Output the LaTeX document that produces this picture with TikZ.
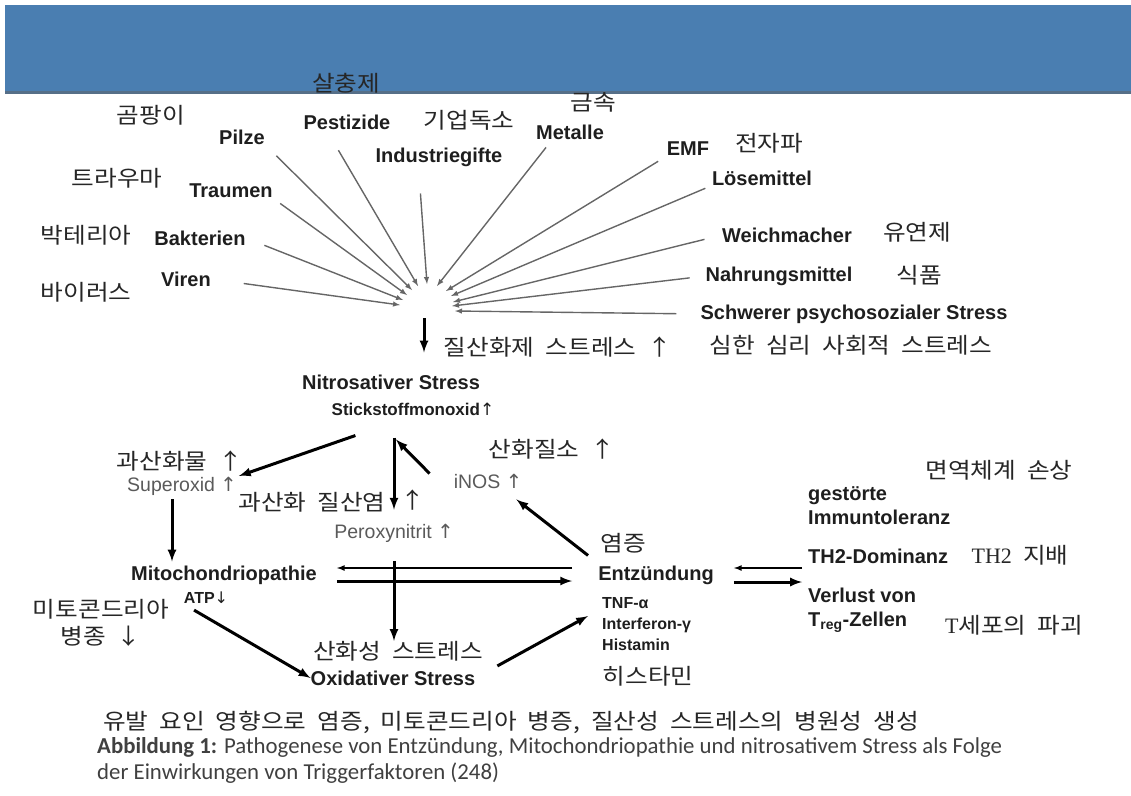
\documentclass[tikz,border=0pt]{standalone}
\usepackage{fontspec}
\setmainfont{Liberation Sans}
\newfontfamily\kor{Noto Sans CJK KR}[FakeStretch=1.12, WordSpace=2]
\newfontfamily\lserif{Liberation Serif}
\newfontfamily\symb{DejaVu Sans}
\newfontfamily\capt{Carlito}
\usepackage{tikz}
\usetikzlibrary{positioning, arrows}
\definecolor{bandblue}{RGB}{74,126,177}
\definecolor{ink}{RGB}{30,30,30}
\definecolor{soft}{RGB}{90,90,90}
\newcommand{\upa}{{\symb\mdseries ↑}}
\newcommand{\dna}{{\symb\mdseries ↓}}

\begin{document}
\begin{tikzpicture}[x=1pt, y=-1pt]
\tikzstyle{trigger}=[font=\fontsize{20}{23}\selectfont\bfseries, text=ink, inner sep=0pt]
\tikzstyle{state}=[font=\fontsize{20}{24}\selectfont\bfseries, text=ink, inner sep=0pt]
\tikzstyle{small}=[font=\fontsize{16}{21}\selectfont\bfseries, text=ink, inner sep=0pt]
\tikzstyle{sub}=[font=\fontsize{19.5}{22}\selectfont, text=soft, inner sep=0pt]
\tikzstyle{kor}=[font=\fontsize{22}{27}\selectfont\kor, text=black!85, inner sep=0pt]
\tikzstyle{ray}=[draw=black!60, line width=1.4pt, -latex]
\tikzstyle{link}=[draw, -latex, line width=3pt]
\tikzstyle{back}=[draw, -latex, line width=1.6pt]

\useasboundingbox (0,0) rectangle (1131,795);
\fill[bandblue] (5,5) rectangle (1131,93);
\fill[bandblue!60!black!80] (5,91) rectangle (1131,94);

% trigger factors
\node[kor] (moldkr) at (151,115) {곰팡이};
\node[trigger] (pilze) at (242,137) {Pilze};
\node[kor] (pestkr) at (346,83) {살충제};
\node[trigger] (pest) at (347,122) {Pestizide};
\node[kor] (indukr) at (469,120) {기업독소};
\node[trigger] (indu) at (439,157) {Industriegifte};
\node[kor] (metalkr) at (593,102) {금속};
\node[trigger] (metal) at (570,132) {Metalle};
\node[trigger] (emf) at (688,149) {EMF};
\node[kor] (emfkr) at (769,143) {전자파};
\node[trigger] (loese) at (762,178) {Lösemittel};
\node[kor] (traumkr) at (117,178) {트라우마};
\node[trigger] (traum) at (231,191) {Traumen};
\node[kor] (baktkr) at (86,235) {박테리아};
\node[trigger] (bakt) at (200,238) {Bakterien};
\node[kor] (virenkr) at (86,292) {바이러스};
\node[trigger] (viren) at (186,279) {Viren};
\node[trigger] (weich) at (787,235) {Weichmacher};
\node[kor] (weichkr) at (917,232) {유연제};
\node[trigger] (nahr) at (779,276) {Nahrungsmittel};
\node[kor] (nahrkr) at (919,275) {식품};
\node[trigger] (psych) at (854,314) {Schwerer psychosozialer Stress};
\node[kor] (psychkr) at (851,345) {심한 심리 사회적 스트레스};

% arrow tips round the hub
\coordinate (hub) at (424,300);
\coordinate (t-viren) at (400,305);
\coordinate (t-bakt) at (403,300);
\coordinate (t-traum) at (407,295);
\coordinate (t-pilze) at (412,290);
\coordinate (t-pest) at (418,286);
\coordinate (t-indu) at (427,284);
\coordinate (t-metal) at (437,286);
\coordinate (t-emf) at (446,291);
\coordinate (t-loese) at (451,296);
\coordinate (t-weich) at (453,302);
\coordinate (t-nahr) at (452,306);
\coordinate (t-psych) at (455,311);

\path[ray, shorten <=33pt] (viren.east) -- (t-viren);
\path[ray, shorten <=20pt] (bakt.east) -- (t-bakt);
\path[ray, shorten <=9pt] (traum.south east) -- (t-traum);
\path[ray, shorten <=16pt] (pilze.south east) -- (t-pilze);
\path[ray, shorten <=24pt] (pest.200) -- (t-pest);
\path[ray, shorten <=27pt] (indu.205) -- (t-indu);
\path[ray, shorten <=10pt] (metal.203) -- (t-metal);
\path[ray, shorten <=10pt] (emf.south west) -- (t-emf);
\path[ray, shorten <=7pt] (loese.south west) -- (t-loese);
\path[ray, shorten <=18pt] (weich.west) -- (t-weich);
\path[ray, shorten <=16pt] (nahr.west) -- (t-nahr);
\path[ray, shorten <=24pt] (psych.west) -- (t-psych);

% pathogenesis
\node[kor] (nitrokr) at (558,347) {질산화제 스트레스 ↑};
\node[state] (nitro) at (391,382) {Nitrosativer Stress};
\node[small, font=\fontsize{17}{20}\selectfont\bfseries] (stick) at (413,409) {Stickstoffmonoxid\upa};
\node[kor] (superkr) at (180,461) {과산화물 ↑};
\node[sub] (super) at (182,486) {Superoxid \upa};
\node[kor] (peroxkr) at (312,502) {과산화 질산염};
\node[kor] (peroxup) at (413,500) {↑};
\node[sub] (peroxy) at (394,533) {Peroxynitrit \upa};
\node[kor] (nokr) at (552,449) {산화질소 ↑};
\node[sub] (inos) at (488,481) {iNOS \upa};
\node[kor] (entzkr) at (623,543) {염증};
\node[state] (entz) at (656,575) {Entzündung};
\node[state] (mito) at (224,575) {Mitochondriopathie};
\node[small] (atp) at (206,598) {ATP\dna};
\node[kor, align=center] (mitokr) at (101,623) {미토콘드리아\\병종 ↓};
\node[kor] (oxkr) at (398,651) {산화성 스트레스};
\node[state] (oxid) at (393,678) {Oxidativer Stress};
\node[small, align=left, anchor=west] (cyto) at (602,624) {TNF-α\\Interferon-γ\\Histamin};
\node[kor] (histkr) at (648,676) {히스타민};

% immune system
\node[kor] (immunkr) at (999,470) {면역체계 손상};
\node[state, align=left, anchor=west] (toler) at (808,506) {gestörte\\Immuntoleranz};
\node[state, anchor=west] (th2) at (808,556) {TH2-Dominanz};
\node[kor] (th2kr) at (1020,555) {{\lserif TH2} 지배};
\node[state, align=left, anchor=west] (treg) at (808,610) {Verlust von\\T\textsubscript{reg}-Zellen};
\node[kor] (tregkr) at (1014,625) {{\lserif T}세포의 파괴};

\path[link, shorten <=18pt, shorten >=22pt] (hub) -- (hub |- nitro.north);
\path[link, shorten <=61pt, shorten >=2pt] (stick.south) -- (super.north east);
\path[link, shorten <=22pt, shorten >=14pt] (stick.south -| peroxy.north) -- (peroxy.north);
\path[link] ([xshift=-24pt]inos.north west) -- ([xshift=-17pt,yshift=-24pt]stick.south);
\path[link] ([xshift=-10pt,yshift=10pt]entz.north west) -- ([xshift=-6pt,yshift=-11pt]inos.south east);
\path[link, shorten <=4pt, shorten >=4pt] ([xshift=-10pt]super.south) -- ([xshift=-10pt]super.south |- mito.north);
\path[back, shorten <=26pt, shorten >=20pt] ([yshift=7pt]entz.west) -- ([yshift=7pt]mito.east);
\path[link, shorten <=20pt, shorten >=26pt] ([yshift=-6pt]mito.east) -- ([yshift=-6pt]entz.west);
\path[link, shorten <=19pt] (peroxy.south) -- (peroxy.south |- oxkr.north);
\path[link, shorten <=12pt] (atp.south west) -- (oxid.west);
\path[link, shorten <=25pt] (oxid.east) -- ([xshift=-14pt,yshift=8pt]cyto.west);
\path[back, shorten >=20pt] ([xshift=-6pt,yshift=-12pt]th2.west) -- ([yshift=7pt]entz.east);
\path[link, shorten <=20pt] ([yshift=-7pt]entz.east) -- ([xshift=-6pt,yshift=-26pt]th2.west);

% caption
\node[kor, font=\fontsize{22}{27}\selectfont\kor, anchor=west] (capkr) at (103,722) {유발 요인 영향으로 염증, 미토콘드리아 병증, 질산성 스트레스의 병원성 생성};
\node[font=\fontsize{22.8}{26}\selectfont\capt, text=black!75, inner sep=0pt, anchor=west, align=left] (caption) at (97,760) {\textbf{Abbildung 1:} Pathogenese von Entzündung, Mitochondriopathie und nitrosativem Stress als Folge\\der Einwirkungen von Triggerfaktoren (248)};
\end{tikzpicture}
\end{document}
